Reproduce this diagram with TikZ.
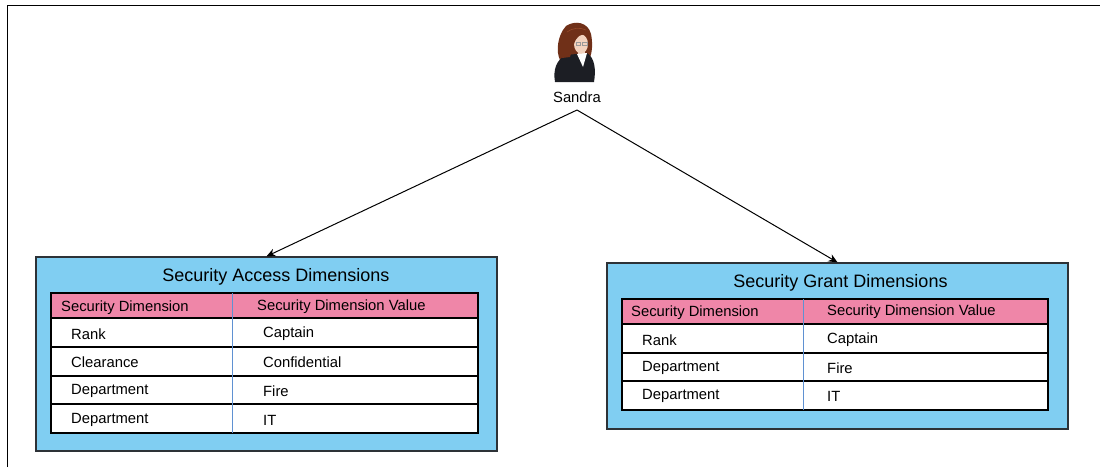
\documentclass[tikz,border=0pt]{standalone}
\usepackage{fontspec}
\setmainfont{Liberation Sans}
\usetikzlibrary{arrows.meta}
\definecolor{panelblue}{RGB}{128,206,242}
\definecolor{headpink}{RGB}{239,134,168}
\definecolor{divblue}{RGB}{95,145,210}
\definecolor{panelline}{RGB}{45,50,55}
\definecolor{hairbrown}{RGB}{112,48,24}
\definecolor{hairlight}{RGB}{150,72,40}
\definecolor{suitdark}{RGB}{28,30,36}
\definecolor{skin}{RGB}{242,210,190}
\tikzset{
  panel/.style={draw=panelline, fill=panelblue, line width=1.3pt, inner sep=0pt},
  titletext/.style={font=\fontsize{18}{20}\selectfont, inner sep=0pt},
  celltext/.style={font=\fontsize{14.8}{17}\selectfont, inner sep=0pt, anchor=west},
  tabline/.style={draw=black, line width=1.2pt},
  divline/.style={draw=divblue, line width=1pt},
  conn/.style={draw=black, line width=1pt, -{Stealth[length=9pt,width=8pt]}}
}
\begin{document}
\begin{tikzpicture}[x=1pt,y=-1pt]
\useasboundingbox (0,0) rectangle (1100,467);

% frame edges
\draw[line width=1pt] (7,467) -- (7,5) -- (1100,5);

% person icon
\fill[hairbrown] (566,26) .. controls (575,20) and (588,22) .. (591,34)
  .. controls (593,44) and (592,52) .. (590,58) -- (560,60)
  .. controls (556,52) and (557,36) .. (566,26) -- cycle;
\fill[suitdark] (555,82) .. controls (553,70) and (556,60) .. (566,55)
  -- (587,53) .. controls (595,58) and (596,70) .. (594,82) -- cycle;
\fill[skin] (578,49) rectangle (585,57);
\fill[white] (577,54) -- (587,53) -- (583,67) -- cycle;
\fill[skin] (581,44) ellipse [x radius=7, y radius=9.5];
\fill[hairbrown] (565,30) .. controls (573,25) and (585,26) .. (590,35)
  -- (586,35) .. controls (581,33) and (576,37) .. (574,44)
  -- (570,57) -- (562,58) -- cycle;
\draw[hairlight, line width=0.6pt] (567,32) .. controls (572,28) and (580,27) .. (586,30);
\draw[gray!80, line width=0.4pt] (576,42) rectangle (580.5,45.5) (582.5,42) rectangle (587,45.5);
\node[celltext, anchor=center] (sandra) at (577,97) {Sandra};
\coordinate (apex) at (577,110);

% access panel
\node[panel, minimum width=461pt, minimum height=194pt] (access) at (266.5,354) {};
\node[titletext] (accTitle) at (276,277) {Security Access Dimensions};
\fill[headpink] (51,293) rectangle (478,318);
\fill[white] (51,318) rectangle (478,433);
\draw[tabline] (51,293) rectangle (478,433);
\draw[tabline] (51,318) -- (478,318) (51,347) -- (478,347)
  (51,376) -- (478,376) (51,404) -- (478,404);
\draw[divline] (232,293) -- (232,433);
\node[celltext] (accH1) at (61,308) {Security Dimension};
\node[celltext] (accH2) at (257,307) {Security Dimension Value};
\node[celltext] (accR1a) at (71,334) {Rank};
\node[celltext] (accR1b) at (263,334) {Captain};
\node[celltext] (accR2a) at (71,362) {Clearance};
\node[celltext] (accR2b) at (263,362) {Confidential};
\node[celltext] (accR3a) at (71,391) {Department};
\node[celltext] (accR3b) at (263,391) {Fire};
\node[celltext] (accR4a) at (71,420) {Department};
\node[celltext] (accR4b) at (263,420) {IT};

% grant panel
\node[panel, minimum width=461pt, minimum height=166pt] (grant) at (837.5,346) {};
\node[titletext] (grTitle) at (840.5,283) {Security Grant Dimensions};
\fill[headpink] (622,299) rectangle (1048,324);
\fill[white] (622,324) rectangle (1048,410);
\draw[tabline] (622,299) rectangle (1048,410);
\draw[tabline] (622,324) -- (1048,324) (622,353) -- (1048,353)
  (622,381) -- (1048,381);
\draw[divline] (803,299) -- (803,410);
\node[celltext] (grH1) at (631,313) {Security Dimension};
\node[celltext] (grH2) at (827,312) {Security Dimension Value};
\node[celltext] (grR1a) at (642,340) {Rank};
\node[celltext] (grR1b) at (827,340) {Captain};
\node[celltext] (grR2a) at (642,368) {Department};
\node[celltext] (grR2b) at (827,368) {Fire};
\node[celltext] (grR3a) at (642,396) {Department};
\node[celltext] (grR3b) at (827,396) {IT};

% connectors
\draw[conn] (apex) -- (access.north);
\draw[conn] (apex) -- (grant.north);
\end{tikzpicture}
\end{document}
